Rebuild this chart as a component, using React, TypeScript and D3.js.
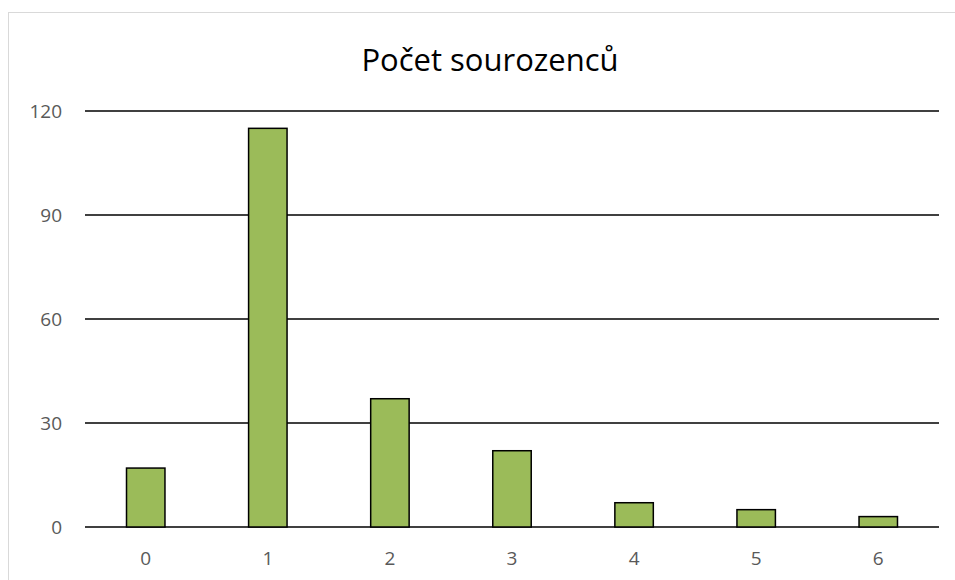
import React from 'react'
import * as d3 from 'd3'

const categories = ['0', '1', '2', '3', '4', '5', '6']
const counts = [17, 115, 37, 22, 7, 5, 3]
const yTicks = [0, 30, 60, 90, 120]
const title = 'Počet sourozenců'

const W = 955
const H = 580
const margin = { left: 85, right: 16, top: 111, bottom: 53 }
const font = '"Open Sans", "Noto Sans", sans-serif'

export default function App() {
  const x = d3.scaleBand()
    .domain(categories)
    .range([margin.left, W - margin.right])
    .paddingInner(0.685)
    .paddingOuter(0.34)
  const y = d3.scaleLinear()
    .domain([0, 120])
    .range([H - margin.bottom, margin.top])

  return (
    <svg width={W} height={H} style={{ position: 'absolute', left: 0, top: 0, background: '#fff' }}>
      {/* chart frame, runs off the page */}
      <rect x={8.5} y={12.5} width={1000} height={1000} fill="#fff" stroke="#d9d9d9" strokeWidth={1} />
      <text x={490} y={71} textAnchor="middle" fontFamily={font} fontSize={31} fill="#000">{title}</text>

      {/* gridlines */}
      {yTicks.map(t => (
        <g key={t}>
          <line x1={margin.left} x2={W - margin.right} y1={y(t)} y2={y(t)} stroke="#000" strokeWidth={1.6} />
          <text x={62} y={y(t)} dy="0.35em" textAnchor="end" fontFamily={font} fontSize={19} fill="#595959">{t}</text>
        </g>
      ))}

      {/* bars */}
      {counts.map((v, i) => (
        <rect key={i} x={x(categories[i])} y={y(v)} width={x.bandwidth()} height={y(0) - y(v)}
          fill="#9bbb59" stroke="#000" strokeWidth={1.5} />
      ))}

      {/* category labels */}
      {categories.map(c => (
        <text key={c} x={(x(c) as number) + x.bandwidth() / 2} y={558} dy="0.35em" textAnchor="middle"
          fontFamily={font} fontSize={19} fill="#595959">{c}</text>
      ))}
    </svg>
  )
}
